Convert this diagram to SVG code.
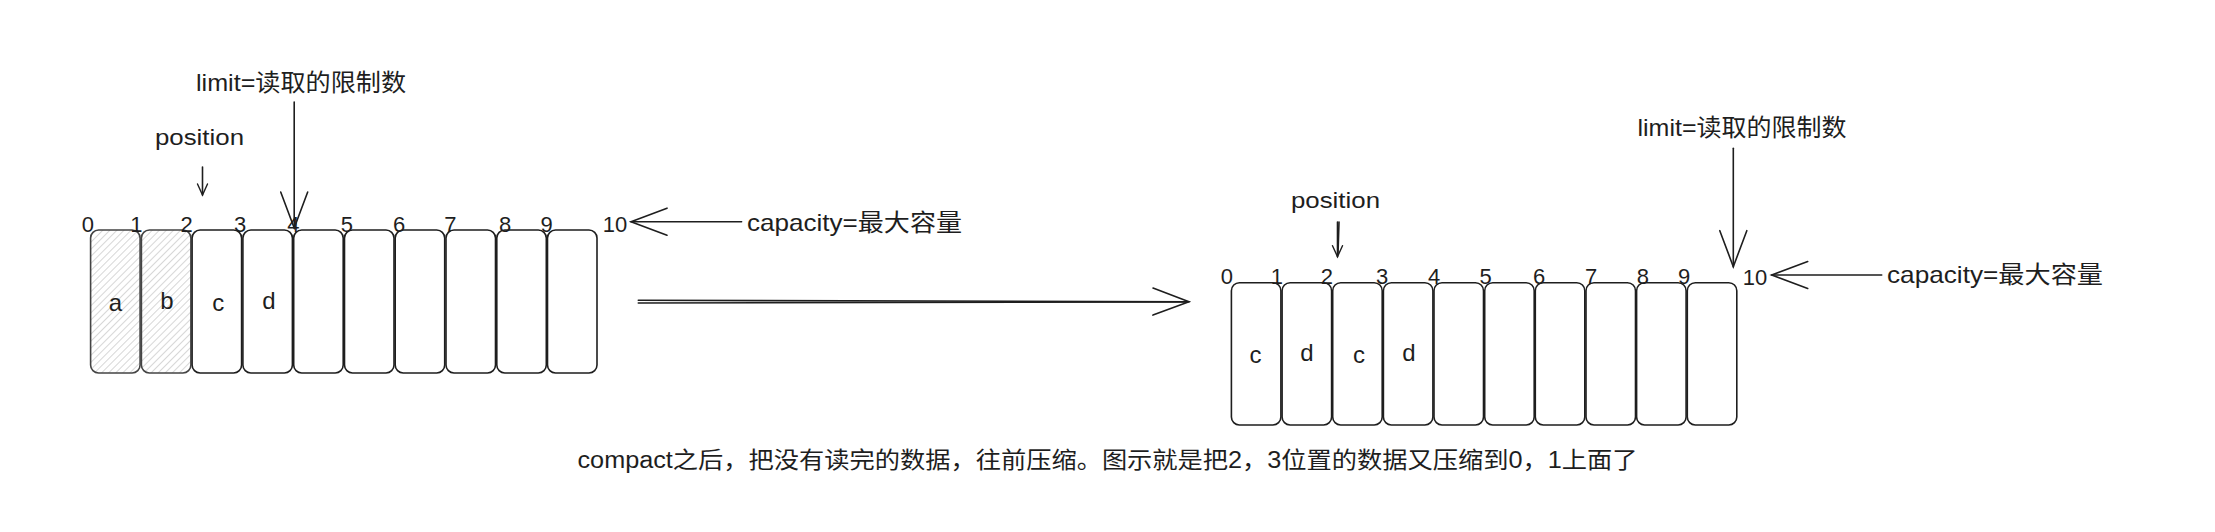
<svg xmlns="http://www.w3.org/2000/svg" width="2215" height="532" viewBox="0 0 2215 532">
<style>
.cell{fill:#fff;stroke:#1e1e1e;stroke-width:1.6}
.hat{fill:url(#hatch);stroke:#444;stroke-width:1.6}
text{font-family:"Liberation Sans","Noto Sans CJK SC",sans-serif;fill:#1e1e1e}
.num{font-size:22px;text-anchor:middle}
.let{font-size:24px;text-anchor:middle}
.lbl{font-size:24px}
.pos{font-size:22px}
.con{fill:none;stroke:#1e1e1e;stroke-width:1.6;stroke-linecap:round}
</style>
<defs>
<pattern id="hatch" patternUnits="userSpaceOnUse" width="5" height="5" patternTransform="rotate(45)">
<line x1="0" y1="0" x2="0" y2="5" stroke="#b0b0b0" stroke-width="1"/>
</pattern>
<marker id="big" markerUnits="userSpaceOnUse" markerWidth="40" markerHeight="32" refX="37" refY="15" orient="auto" overflow="visible">
<path d="M1,1.5 L37,15 L1,28.5" fill="none" stroke="#1e1e1e" stroke-width="1.6" stroke-linecap="round"/>
</marker>
<marker id="small" markerUnits="userSpaceOnUse" markerWidth="14" markerHeight="12" refX="12" refY="6" orient="auto" overflow="visible">
<path d="M1,1 L12,6 L1,11" fill="none" stroke="#1e1e1e" stroke-width="1.4" stroke-linecap="round"/>
</marker>
</defs>
<rect width="2215" height="532" fill="#fff"/>

<!-- Left buffer -->
<g id="left-buffer">
<rect class="hat" x="90.6" y="230" width="49.5" height="143" rx="8"/>
<rect class="hat" x="141.4" y="230" width="49.5" height="143" rx="8"/>
<rect class="cell" x="192.1" y="230" width="49.5" height="143" rx="8"/>
<rect class="cell" x="242.9" y="230" width="49.5" height="143" rx="8"/>
<rect class="cell" x="293.7" y="230" width="49.5" height="143" rx="8"/>
<rect class="cell" x="344.5" y="230" width="49.5" height="143" rx="8"/>
<rect class="cell" x="395.2" y="230" width="49.5" height="143" rx="8"/>
<rect class="cell" x="446.0" y="230" width="49.5" height="143" rx="8"/>
<rect class="cell" x="496.8" y="230" width="49.5" height="143" rx="8"/>
<rect class="cell" x="547.5" y="230" width="49.5" height="143" rx="8"/>
<text class="let" x="115.5" y="311">a</text>
<text class="let" x="166.9" y="309">b</text>
<text class="let" x="218.3" y="311">c</text>
<text class="let" x="268.9" y="309">d</text>
</g>
<g id="left-indices">
<text class="num" x="87.8" y="231.5">0</text>
<text class="num" x="136.4" y="231.5">1</text>
<text class="num" x="186.6" y="231.5">2</text>
<text class="num" x="240" y="231.5">3</text>
<text class="num" x="293.4" y="231.5">4</text>
<text class="num" x="346.8" y="231.5">5</text>
<text class="num" x="399" y="231.5">6</text>
<text class="num" x="450.4" y="231.5">7</text>
<text class="num" x="505" y="231.5">8</text>
<text class="num" x="546.5" y="231.5">9</text>
<text class="num" x="615" y="231.5">10</text>
</g>
<g id="left-position"><text class="pos" x="155" y="145" textLength="89" lengthAdjust="spacingAndGlyphs">position</text></g>
<g id="left-limit"><text class="lbl" x="196" y="91" textLength="210" lengthAdjust="spacingAndGlyphs">limit=读取的限制数</text></g>
<g id="left-capacity"><text class="lbl" x="747" y="231" textLength="215" lengthAdjust="spacingAndGlyphs">capacity=最大容量</text></g>

<!-- Right buffer -->
<g id="right-buffer">
<rect class="cell" x="1231.4" y="282.7" width="49.5" height="142.3" rx="8"/>
<rect class="cell" x="1282.1" y="282.7" width="49.5" height="142.3" rx="8"/>
<rect class="cell" x="1332.7" y="282.7" width="49.5" height="142.3" rx="8"/>
<rect class="cell" x="1383.4" y="282.7" width="49.5" height="142.3" rx="8"/>
<rect class="cell" x="1434.0" y="282.7" width="49.5" height="142.3" rx="8"/>
<rect class="cell" x="1484.7" y="282.7" width="49.5" height="142.3" rx="8"/>
<rect class="cell" x="1535.3" y="282.7" width="49.5" height="142.3" rx="8"/>
<rect class="cell" x="1586.0" y="282.7" width="49.5" height="142.3" rx="8"/>
<rect class="cell" x="1636.6" y="282.7" width="49.5" height="142.3" rx="8"/>
<rect class="cell" x="1687.3" y="282.7" width="49.5" height="142.3" rx="8"/>
<text class="let" x="1255.4" y="363">c</text>
<text class="let" x="1307" y="361">d</text>
<text class="let" x="1359" y="363">c</text>
<text class="let" x="1409" y="361">d</text>
</g>
<g id="right-indices">
<text class="num" x="1226.8" y="284">0</text>
<text class="num" x="1276.8" y="284">1</text>
<text class="num" x="1326.8" y="284">2</text>
<text class="num" x="1382" y="284">3</text>
<text class="num" x="1434" y="284">4</text>
<text class="num" x="1485.7" y="284">5</text>
<text class="num" x="1539" y="284">6</text>
<text class="num" x="1591" y="284">7</text>
<text class="num" x="1642.9" y="284">8</text>
<text class="num" x="1684" y="284">9</text>
<text class="num" x="1755" y="285">10</text>
</g>
<g id="right-position"><text class="pos" x="1291" y="208" textLength="89" lengthAdjust="spacingAndGlyphs">position</text></g>
<g id="right-limit"><text class="lbl" x="1637.5" y="136" textLength="209" lengthAdjust="spacingAndGlyphs">limit=读取的限制数</text></g>
<g id="right-capacity"><text class="lbl" x="1887" y="283" textLength="216" lengthAdjust="spacingAndGlyphs">capacity=最大容量</text></g>

<g id="caption"><text x="577.5" y="468" style="font-size:23px" textLength="1060" lengthAdjust="spacingAndGlyphs">compact之后，把没有读完的数据，往前压缩。图示就是把2，3位置的数据又压缩到0，1上面了</text></g>

<!-- Connectors -->
<g id="connectors">
<line class="con" x1="202.5" y1="167" x2="202.5" y2="195" marker-end="url(#small)"/>
<line class="con" x1="294.2" y1="102" x2="294.2" y2="228" marker-end="url(#big)"/>
<line class="con" x1="741.6" y1="221.7" x2="631" y2="221.7" marker-end="url(#big)"/>
<line class="con" x1="638.3" y1="300.3" x2="1189" y2="301.7" marker-end="url(#big)"/>
<line class="con" x1="638.3" y1="303" x2="1186" y2="302"/>
<line class="con" x1="1337.5" y1="222" x2="1337.5" y2="256.7" marker-end="url(#small)"/>
<line class="con" x1="1339" y1="222" x2="1338" y2="254"/>
<line class="con" x1="1733.3" y1="148.3" x2="1733.3" y2="266.7" marker-end="url(#big)"/>
<line class="con" x1="1881.7" y1="275" x2="1771.7" y2="275" marker-end="url(#big)"/>
</g>
</svg>
